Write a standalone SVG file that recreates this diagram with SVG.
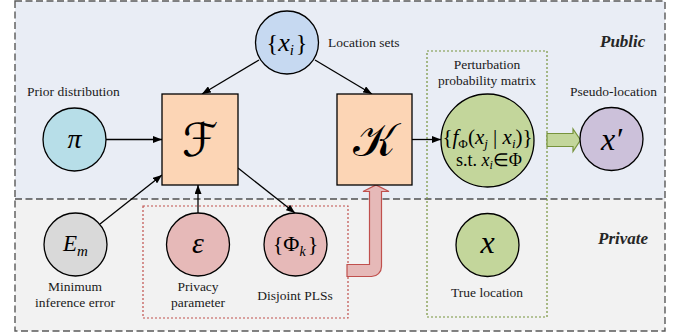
<svg xmlns="http://www.w3.org/2000/svg" width="686" height="333" viewBox="0 0 686 333">
<defs>
<style>
.lbl{font-family:"Liberation Serif","Times New Roman",serif;font-size:13.5px;fill:#1a1a1a}
.m{font-family:"Liberation Serif","Times New Roman",serif;fill:#000}
.it{font-style:italic}
.node{stroke:#000;stroke-width:1.3}
.box{fill:#fcd5b5;stroke:#000;stroke-width:1.3}
.conn{stroke:#000;stroke-width:1.3;fill:none;marker-end:url(#ah)}
.zone{font-family:"Liberation Serif","Times New Roman",serif;font-size:17px;font-weight:bold;font-style:italic;fill:#262626}
.scr{font-family:"DejaVu Sans","Noto Sans",serif;font-size:46px;fill:#000}
</style>
<marker id="ah" markerWidth="9" markerHeight="7" refX="9" refY="3.5" orient="auto" markerUnits="userSpaceOnUse">
<path d="M0,0 L9,3.5 L0,7 Z" fill="#000"/>
</marker>
</defs>
<g id="background">
<rect x="15" y="1" width="650" height="198" fill="#e9edf5"/>
<rect x="15" y="199" width="650" height="132" fill="#f2f2f2"/>
<rect x="15" y="1" width="650" height="330" fill="none" stroke="#595959" stroke-width="1.4" stroke-dasharray="7,3.5"/>
<line x1="15" y1="199" x2="665" y2="199" stroke="#000" stroke-width="1.2" stroke-dasharray="7,3.5"/>
<text class="zone" x="600" y="47">Public</text>
<text class="zone" x="598" y="244">Private</text>
</g>
<g id="groups">
<rect x="427" y="51" width="120" height="266" fill="none" stroke="#77933c" stroke-width="1.2" stroke-dasharray="2,2"/>
<rect x="143" y="206" width="205" height="112" fill="none" stroke="#c0504d" stroke-width="1.2" stroke-dasharray="2,2"/>
</g>
<g id="connectors">
<line class="conn" x1="106" y1="139.5" x2="162" y2="139.5"/>
<line class="conn" x1="259" y1="60" x2="202" y2="94"/>
<line class="conn" x1="315" y1="60" x2="372" y2="94"/>
<line class="conn" x1="100" y1="224" x2="162" y2="175"/>
<line class="conn" x1="198" y1="213" x2="198" y2="185"/>
<line class="conn" x1="238" y1="168" x2="295" y2="213"/>
<line class="conn" x1="412" y1="139.5" x2="441" y2="139.5"/>
<path d="M347,264.5 L369.5,264.5 L369.5,191.5 L363,191.5 L376,185 L389,191.5 L381.5,191.5 L381.5,266.5 A10,10 0 0 1 371.5,276.5 L347,276.5 Z" fill="#e6b9b8" stroke="#c0504d" stroke-width="1.2"/>
<path d="M547,133.5 L573,133.5 L573,129 L580.5,140 L573,151.5 L573,146.5 L547,146.5 Z" fill="#c3d69b" stroke="#77933c" stroke-width="1.2"/>
</g>
<g id="node-xi">
<circle class="node" cx="287" cy="42.5" r="31.5" fill="#c6d9f1"/>
<text class="m" x="287" y="51" text-anchor="middle" font-size="24">{<tspan class="it" font-size="26">x</tspan><tspan class="it" font-size="15" dy="4">i</tspan><tspan dy="-4" dx="2">}</tspan></text>
<text class="lbl" x="328" y="47">Location sets</text>
</g>
<g id="node-pi">
<circle class="node" cx="74.5" cy="139.5" r="31.5" fill="#b7dee8"/>
<text class="m it" x="74.5" y="148" text-anchor="middle" font-size="28">π</text>
<text class="lbl" x="27" y="96">Prior distribution</text>
</g>
<g id="node-F">
<rect class="box" x="162" y="94" width="76" height="91"/>
<text class="scr" x="200" y="156" text-anchor="middle">ℱ</text>
</g>
<g id="node-K">
<rect class="box" x="337" y="94" width="75" height="91"/>
<text class="scr" x="374.5" y="156" text-anchor="middle">𝒦</text>
</g>
<g id="node-matrix">
<text class="lbl" x="487" y="69" text-anchor="middle">Perturbation</text>
<text class="lbl" x="487" y="85" text-anchor="middle">probability matrix</text>
<circle class="node" cx="487.5" cy="140.5" r="46.5" fill="#c3d69b"/>
<text class="m" x="487.5" y="144" text-anchor="middle" font-size="21">{<tspan class="it">f</tspan><tspan font-size="13" dy="4">Φ</tspan><tspan dy="-4">(</tspan><tspan class="it">x</tspan><tspan class="it" font-size="13" dy="4">j</tspan><tspan dy="-4"> | </tspan><tspan class="it">x</tspan><tspan class="it" font-size="13" dy="4">i</tspan><tspan dy="-4">)}</tspan></text>
<text class="m" x="489" y="166" text-anchor="middle" font-size="18">s.t.  <tspan class="it">x</tspan><tspan class="it" font-size="12" dy="3">i</tspan><tspan dy="-3">∈Φ</tspan></text>
</g>
<g id="node-xprime">
<circle class="node" cx="611.5" cy="139" r="31.5" fill="#ccc1da"/>
<text class="m it" x="611.5" y="150" text-anchor="middle" font-size="32">x′</text>
<text class="lbl" x="613.5" y="96" text-anchor="middle">Pseudo-location</text>
</g>
<g id="node-Em">
<circle class="node" cx="75.5" cy="244.5" r="31.5" fill="#d9d9d9"/>
<text class="m it" x="75.5" y="251" text-anchor="middle" font-size="23">E<tspan font-size="15" dy="5">m</tspan></text>
<text class="lbl" x="75" y="291" text-anchor="middle">Minimum</text>
<text class="lbl" x="75" y="307" text-anchor="middle">inference error</text>
</g>
<g id="node-eps">
<circle class="node" cx="198" cy="244.5" r="31.5" fill="#e6b9b8"/>
<text class="m it" x="198" y="253" text-anchor="middle" font-size="30">ε</text>
<text class="lbl" x="198" y="291" text-anchor="middle">Privacy</text>
<text class="lbl" x="198" y="307" text-anchor="middle">parameter</text>
</g>
<g id="node-phik">
<circle class="node" cx="295.5" cy="244.5" r="31.5" fill="#e6b9b8"/>
<text class="m" x="295.5" y="251" text-anchor="middle" font-size="22">{Φ<tspan class="it" font-size="14" dy="5">k</tspan><tspan dy="-5" dx="2">}</tspan></text>
<text class="lbl" x="295" y="300" text-anchor="middle">Disjoint PLSs</text>
</g>
<g id="node-x">
<circle class="node" cx="487.5" cy="245" r="31.5" fill="#c3d69b"/>
<text class="m it" x="487.5" y="253" text-anchor="middle" font-size="32">x</text>
<text class="lbl" x="487" y="297" text-anchor="middle">True location</text>
</g>
</svg>
